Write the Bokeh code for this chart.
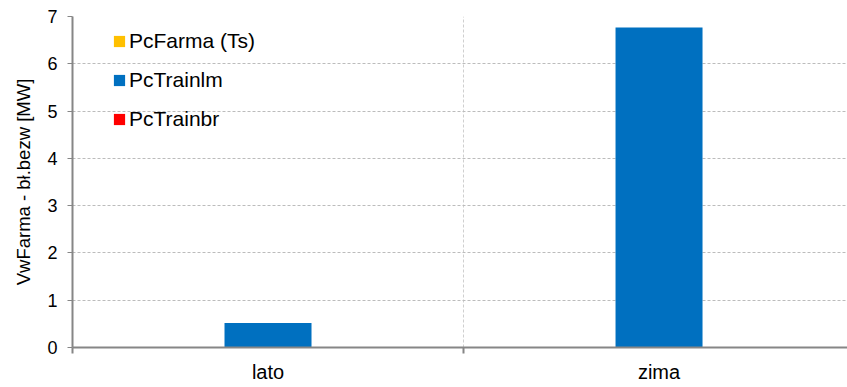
from bokeh.plotting import figure
from bokeh.models import (ColumnDataSource, Range1d, FixedTicker, Legend, LegendItem)
from bokeh.transform import dodge
from bokeh.embed import file_html
from bokeh.resources import INLINE

# ---- data ----
categories = ["lato", "zima"]
series_names = ["PcFarma (Ts)", "PcTrainlm", "PcTrainbr"]
pc_farma_ts = [0.0, 0.0]
pc_trainlm = [0.52, 6.77]
pc_trainbr = [0.0, 0.0]
series_colors = ["#FFC000", "#0070C0", "#FF0000"]
y_ticks = [0, 1, 2, 3, 4, 5, 6, 7]

FONT = "Liberation Sans"
bar_w = 0.2225

x_centers = [i + 0.5 for i in range(len(categories))]
source = ColumnDataSource(dict(
    x=x_centers,
    farma=pc_farma_ts,
    trainlm=pc_trainlm,
    trainbr=pc_trainbr,
))

p = figure(width=847, height=387, output_backend="svg", toolbar_location=None,
           x_range=Range1d(0, 1.982), y_range=Range1d(0, 7),
           min_border_left=72, min_border_right=0, min_border_top=16,
           min_border_bottom=40)
p.outline_line_color = None
p.background_fill_color = "white"
p.border_fill_color = "white"

renderers = []
for col, off, color in zip(["farma", "trainlm", "trainbr"], [-bar_w, 0.0, bar_w], series_colors):
    r = p.vbar(x=dodge("x", off), top=col, width=bar_w, source=source,
               fill_color=color, line_color=None)
    renderers.append(r)

# axes
xa = p.xaxis[0]
xa.ticker = FixedTicker(ticks=x_centers, minor_ticks=[0, 1, 2])
xa.major_label_overrides = {x: c for x, c in zip(x_centers, categories)}
xa.major_tick_out = 0
xa.major_tick_in = 0
xa.minor_tick_out = 6
xa.minor_tick_in = 0
xa.minor_tick_line_color = "#868686"
xa.minor_tick_line_width = 2
xa.axis_line_color = "#868686"
xa.axis_line_width = 2
xa.major_label_text_font = FONT
xa.major_label_text_font_size = "20px"
xa.major_label_text_color = "#000000"
xa.major_label_standoff = 7

ya = p.yaxis[0]
ya.ticker = FixedTicker(ticks=y_ticks)
ya.major_tick_out = 5
ya.major_tick_in = 0
ya.minor_tick_line_color = None
ya.major_tick_line_color = "#868686"
ya.major_tick_line_width = 1
ya.axis_line_color = "#868686"
ya.axis_line_width = 2
ya.major_label_text_font = FONT
ya.major_label_text_font_size = "18px"
ya.major_label_text_color = "#000000"
ya.major_label_standoff = 10
ya.axis_label = "VwFarma - bł.bezw [MW]"
ya.axis_label_text_font = FONT
ya.axis_label_text_font_size = "18.5px"
ya.axis_label_text_font_style = "normal"
ya.axis_label_text_color = "#000000"
ya.axis_label_standoff = 10

# grids
p.ygrid.ticker = FixedTicker(ticks=y_ticks[1:])
p.ygrid.grid_line_color = "#bcbcbc"
p.ygrid.grid_line_dash = "3 2"
p.ygrid.grid_line_width = 1
p.xgrid.ticker = FixedTicker(ticks=[1])
p.xgrid.grid_line_color = "#cfcfcf"
p.xgrid.grid_line_dash = "3 2"
p.xgrid.grid_line_width = 1

legend = Legend(items=[LegendItem(label=n, renderers=[r]) for n, r in zip(series_names, renderers)],
                location=(40, 216), orientation="vertical",
                glyph_width=14, glyph_height=14, label_height=24, spacing=15,
                label_standoff=3, padding=5, border_line_color=None,
                background_fill_alpha=0,
                label_text_font=FONT, label_text_font_size="21px",
                label_text_color="#000000")
p.add_layout(legend, "center")

open("out.html", "w").write(file_html(p, INLINE))
